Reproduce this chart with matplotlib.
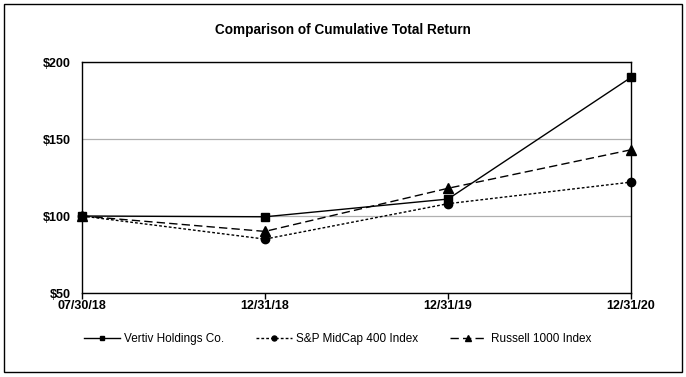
import matplotlib.pyplot as plt
from matplotlib.patches import Rectangle

plt.rcParams['font.family'] = ['Liberation Sans', 'DejaVu Sans']

dates = ["07/30/18", "12/31/18", "12/31/19", "12/31/20"]
vertiv = [100, 99.5, 111, 190]
midcap = [100, 85, 108, 122]
russell = [100, 90, 118, 143]

fig = plt.figure(figsize=(6.86, 3.77), dpi=100)
fig.patches.append(Rectangle((0.006, 0.012), 0.988, 0.978, transform=fig.transFigure,
                             fill=False, edgecolor='black', lw=1.0))
ax = fig.add_axes([0.1195, 0.2228, 0.8003, 0.6127])

x = range(len(dates))
ax.plot(x, vertiv, color='black', lw=1.0, ls='-', marker='s', ms=6,
        label='Vertiv Holdings Co.', clip_on=False, zorder=3)
ax.plot(x, midcap, color='black', lw=1.0, ls=(0, (2, 1.5)), marker='o', ms=6,
        label='S&P MidCap 400 Index', clip_on=False, zorder=3)
ax.plot(x, russell, color='black', lw=1.0, ls=(0, (6, 3)), marker='^', ms=7,
        label='Russell 1000 Index', clip_on=False, zorder=3)

ax.set_xlim(0, 3)
ax.set_ylim(50, 200)
ax.set_xticks(list(x))
ax.set_xticklabels(dates, fontweight='bold', fontsize=9)
ax.set_yticks([50, 100, 150, 200])
ax.set_yticklabels(['$50', '$100', '$150', '$200'], fontweight='bold', fontsize=9)
ax.tick_params(axis='x', length=4, width=1, pad=1)
ax.tick_params(axis='y', length=0, pad=8)
ax.yaxis.grid(True, color='#b0b0b0', lw=0.9)
ax.set_axisbelow(True)
for s in ax.spines.values():
    s.set_linewidth(1.0)

fig.text(0.5, 0.92, 'Comparison of Cumulative Total Return', ha='center', va='center',
         fontsize=9.8, fontweight='bold')

leg = fig.legend(loc='center', bbox_to_anchor=(0.492, 0.10), ncol=3, frameon=False,
                 fontsize=8.5, handlelength=3.0, handletextpad=0.4, columnspacing=2.7,
                 markerscale=0.6)

fig.savefig('out.png', dpi=100)
